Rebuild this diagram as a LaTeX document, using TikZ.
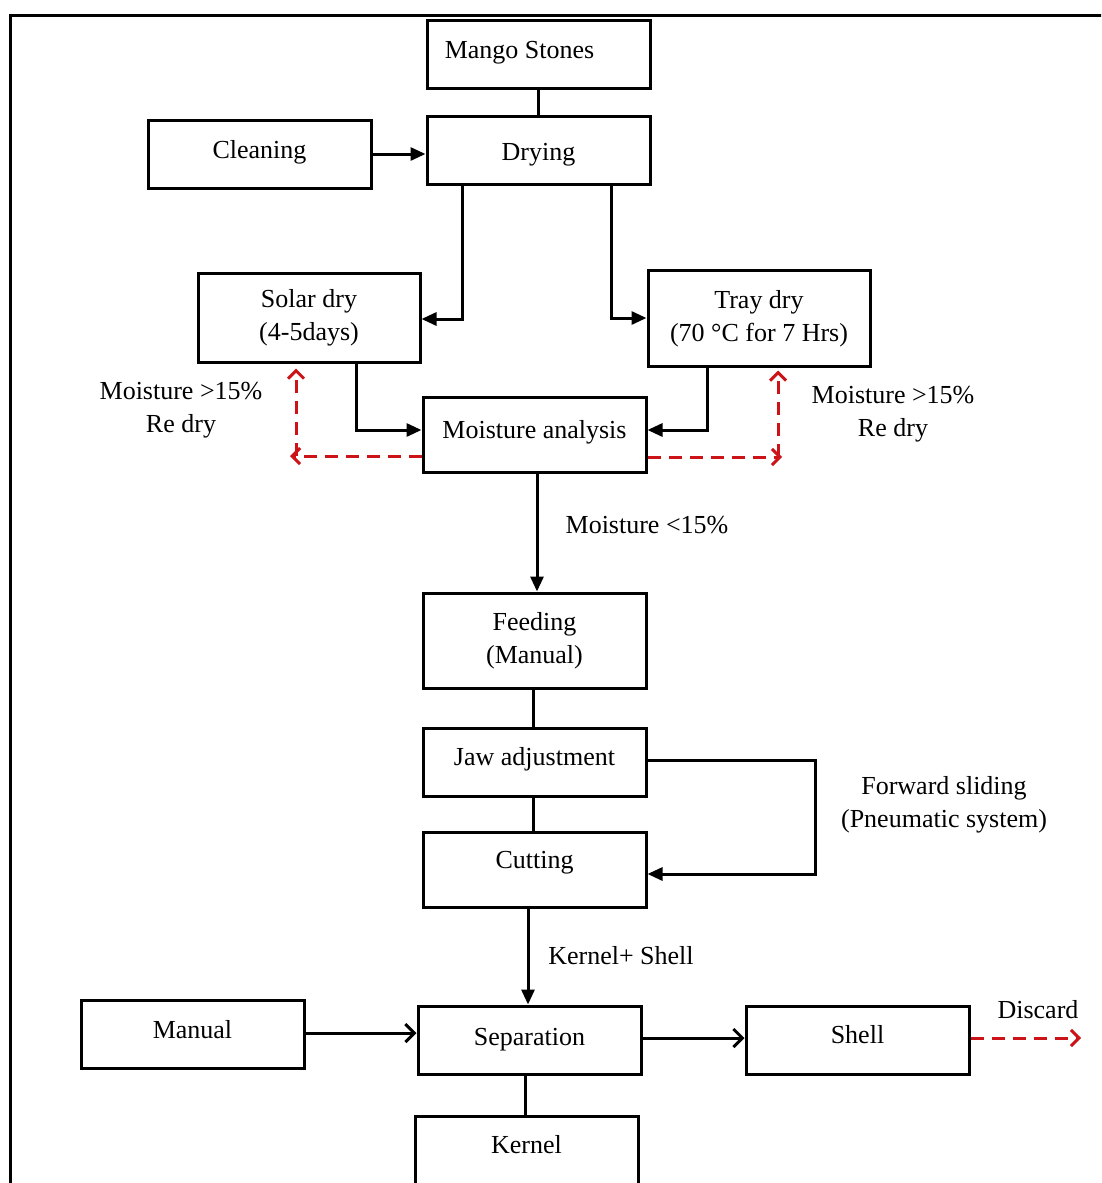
\documentclass[tikz,border=0pt]{standalone}
\usepackage{fontspec}
\setmainfont{Liberation Serif}
\usetikzlibrary{arrows.meta}
\definecolor{redd}{RGB}{204,20,24}
\newcommand{\twol}[2]{\begin{tabular}{@{}c@{}}#1\\#2\end{tabular}}
\begin{document}
\begin{tikzpicture}[x=1pt,y=-1pt,
  font=\fontsize{26}{33}\selectfont,
  box/.style={draw, line width=3pt, minimum width=223pt, minimum height=68pt, inner sep=0pt, align=center},
  one/.style={text height=18pt, text depth=6pt},
  conn/.style={line width=3pt},
  arr/.style={conn, -{Triangle[length=15pt,width=13pt]}},
  barb/.style={conn, -{Straight Barb[length=9pt,width=18pt,line width=3pt]}},
  redarr/.style={line width=3pt, redd, dash pattern=on 13pt off 8pt, -{Straight Barb[length=8pt,width=16pt,line width=3pt]}},
  lbl/.style={align=center, inner sep=0pt}]
\useasboundingbox (0,0) rectangle (1101,1183);
\begin{scope}
\clip (0,0) rectangle (1101,1183);
% frame
\draw[line width=3pt] (10,1190) -- (10,15) -- (1110,15);
% boxes
\node[box, one] (ms) at (538.5,54) {\raisebox{1.5pt}{Mango Stones\hspace*{38pt}}};
\node[box, one] (dry) at (538.5,150) {\raisebox{-4.5pt}{Drying}};
\node[box, one] (clean) at (259.5,154) {\raisebox{1.5pt}{Cleaning}};
\node[box, minimum width=222pt, minimum height=89pt] (solar) at (309,317.5) {\raisebox{6pt}{\twol{Solar dry}{(4-5days)}}};
\node[box, minimum width=222pt, minimum height=96pt] (tray) at (759,318) {\raisebox{-1pt}{\twol{Tray dry}{(70 °C for 7 Hrs)}}};
\node[box, one, minimum height=75pt] (ma) at (534.5,434.5) {\raisebox{2pt}{Moisture analysis}};
\node[box, minimum height=95pt] (feed) at (534.5,640.5) {\twol{Feeding}{(Manual)}};
\node[box, one] (jaw) at (534.5,762) {\raisebox{2.5pt}{Jaw adjustment}};
\node[box, one, minimum height=75pt] (cut) at (534.5,869.5) {\raisebox{7.5pt}{Cutting}};
\node[box, one] (sep) at (529.5,1040) {\raisebox{0.5pt}{Separation}};
\node[box, one] (man) at (192.5,1034) {\raisebox{1.5pt}{Manual}};
\node[box, one] (shell) at (857.5,1040) {\raisebox{2.5pt}{Shell}};
\node[box, one] (kern) at (526.5,1150) {\raisebox{2.5pt}{Kernel}};
% labels
\node[lbl] (l1) at (181,409) {\twol{Moisture >15\%}{Re dry}};
\node[lbl] (l2) at (893,413) {\twol{Moisture >15\%}{Re dry}};
\node[lbl] (l3) at (647,525) {Moisture <15\%};
\node[lbl] (l4) at (944,804) {\twol{Forward sliding}{(Pneumatic system)}};
\node[lbl] (l5) at (621,956) {Kernel+ Shell};
\node[lbl] (l6) at (1038,1010) {Discard};
% coordinates
\coordinate (lh) at (290,456);
\coordinate (lv) at (296,456);
\coordinate (rh) at (782,457);
\coordinate (rv) at (778,457);
\coordinate (dis) at (1081,1038);
% connectors
\draw[conn] (ms.south) -- (dry.north);
\draw[arr] (clean.east) -- (clean.east -| dry.west);
\draw[arr] ([xshift=-76.5pt]dry.south) |- ([yshift=-1.5pt]solar.east);
\draw[arr] ([xshift=72.5pt]dry.south) |- (tray.west);
\draw[arr] ([xshift=47pt]solar.south) |- ([yshift=4.5pt]ma.west);
\draw[arr] ([xshift=-52pt]tray.south) |- ([yshift=4.5pt]ma.east);
\draw[redarr] ([yshift=-21.5pt]ma.west) -- (lh);
\draw[redarr] (lv) -- ([xshift=-13pt,yshift=-5pt]solar.south);
\draw[redarr] ([yshift=-22.5pt]ma.east) -- (rh);
\draw[redarr] (rv) -- ([xshift=19pt,yshift=-3pt]tray.south);
\draw[arr] ([xshift=2.5pt]ma.south) -- ([xshift=2.5pt]feed.north);
\draw[conn] ([xshift=-1.5pt]feed.south) -- ([xshift=-1.5pt]jaw.north);
\draw[conn] ([xshift=-1.5pt]jaw.south) -- ([xshift=-1.5pt]cut.north);
\draw[arr] ([yshift=2pt]jaw.east) -- ++(168,0) |- ([yshift=-4.5pt]cut.east);
\draw[arr] ([xshift=-6.5pt]cut.south) -- ([xshift=-1.5pt]sep.north);
\draw[barb] ([yshift=1pt]man.east) -- ([yshift=7pt]sep.west);
\draw[barb] ([yshift=2pt]sep.east) -- ([yshift=2pt]shell.west);
\draw[redarr] ([yshift=2pt]shell.east) -- (dis);
\draw[conn] ([xshift=-4.5pt]sep.south) -- ([xshift=-1.5pt]kern.north);
\end{scope}
\end{tikzpicture}
\end{document}
